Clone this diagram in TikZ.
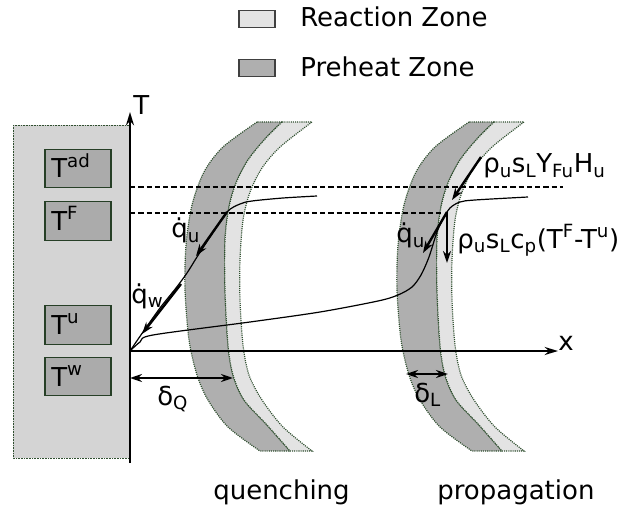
\documentclass[tikz,border=0pt]{standalone}
\usepackage{fontspec}
\setmainfont{DejaVu Sans}
\usetikzlibrary{arrows.meta}
\definecolor{wallgray}{HTML}{D4D4D4}
\definecolor{boxgray}{HTML}{ABABAB}
\definecolor{preheatgray}{HTML}{AFAFAF}
\definecolor{reactiongray}{HTML}{E3E3E3}
\definecolor{dgreen}{HTML}{2F4F2F}
\tikzset{
  wallstyle/.style={fill=wallgray, draw=dgreen, line width=0.6pt, dash pattern=on 0.6pt off 0.6pt},
  tbox/.style={draw=dgreen!80!black, fill=boxgray, line width=0.8pt, minimum width=49.5pt, minimum height=29pt, inner sep=0pt},
  legbox/.style={draw=black!75, line width=0.9pt, minimum width=27pt, minimum height=12.5pt, inner sep=0pt},
  preheatzone/.style={fill=preheatgray, draw=dgreen, line width=0.9pt, dash pattern=on 0.8pt off 0.8pt},
  reactionzone/.style={fill=reactiongray, draw=dgreen, line width=0.9pt, dash pattern=on 0.8pt off 0.8pt},
  axisline/.style={line width=1.4pt, -{Stealth[length=10pt,width=6pt]}},
  profile/.style={line width=0.9pt},
  levelline/.style={line width=1.1pt, dash pattern=on 4pt off 2.2pt},
  fluxarrow/.style={line width=1.8pt, -{Stealth[length=9pt,width=6pt]}},
  widtharrow/.style={line width=1.4pt, {Stealth[length=9pt,width=6pt]}-{Stealth[length=9pt,width=6pt]}},
  lbl/.style={anchor=base west, inner sep=0pt}
}
\begin{document}
\begin{tikzpicture}[x=0.75pt,y=-0.75pt,font=\fontsize{19.5}{23}\selectfont]
\useasboundingbox (0,0) rectangle (622,510);

% legend
\node[legbox, fill=reactiongray] (legR) at (257,19) {};
\node[lbl] (legRt) at (300,27) {Reaction Zone};
\node[legbox, fill=preheatgray] (legP) at (257,68) {};
\node[lbl] (legPt) at (300,77) {Preheat Zone};

% wall
\draw[wallstyle] (13,125) rectangle (130,458);

% flame bands
\foreach \dx in {0,212}{
\begin{scope}[shift={(\dx,0)}]
\filldraw[preheatzone] plot[smooth] coordinates {(257,122) (223,147) (204,172) (192,205) (186,245) (185,290) (189,340) (197,375) (208,400) (228,427) (260,451)}
  -- plot[smooth] coordinates {(290,451) (267,425) (244,400) (233,375) (228,345) (225,290) (225,240) (229,207) (236,183) (248,160) (265,139) (282,122)} -- cycle;
\filldraw[reactionzone] plot[smooth] coordinates {(282,122) (265,139) (248,160) (236,183) (229,207) (225,240) (225,290) (228,345) (233,375) (244,400) (267,425) (290,451)}
  -- plot[smooth] coordinates {(312,451) (283,427) (262,400) (249,375) (243,345) (240,300) (240,260) (243,220) (250,192) (262,168) (280,147) (312,122)} -- cycle;
\end{scope}}

% temperature boxes
\node[tbox] (bad) at (78,168.5) {};
\node[lbl] (lad) at (51,178) {T\textsuperscript{ad}};
\node[tbox] (bF) at (78,221) {};
\node[lbl] (lF) at (51,230) {T\textsuperscript{F}};
\node[tbox] (bu) at (78,325) {};
\node[lbl] (lu) at (51,334) {T\textsuperscript{u}};
\node[tbox] (bw) at (78,376.5) {};
\node[lbl] (lw) at (51,386) {T\textsuperscript{w}};

% coordinates
\coordinate (O) at (130,351);
\coordinate (Tbot) at (130,463);
\coordinate (Ttop) at (130,112);
\coordinate (Xend) at (558,351);
\coordinate (adL) at (130,187);
\coordinate (adR) at (563,187);
\coordinate (FL) at (130,213);
\coordinate (FR) at (444,213);
\coordinate (Qf) at (227,212);
\coordinate (Qtip) at (196,256);
\coordinate (Wst) at (181,284);
\coordinate (Wtip) at (142,334);
\coordinate (Pf) at (447,212);
\coordinate (Ptip) at (423,253);
\coordinate (Dtip) at (447,263);
\coordinate (Hst) at (481,157);
\coordinate (Htip) at (452,200);
\coordinate (dQa) at (130,378);
\coordinate (dQb) at (233,378);
\coordinate (dLa) at (406,374);
\coordinate (dLb) at (448,374);

% level lines
\draw[levelline] (adL) -- (adR);
\draw[levelline] (FL) -- (FR);

% profiles
\draw[profile] plot[smooth] coordinates {(130,351) (143,332) (160,308) (176,288) (187,273) (197,257) (210,237) (227,212) (240,204) (252,201) (283,198) (317,196)};
\draw[profile] plot[smooth] coordinates {(130,351) (140,342) (153,335) (250,322) (320,312) (378,301) (398,295) (412,287) (421,275) (429,257) (437,232) (443,219) (450,208) (460,202) (475,200) (528,197)};

% axes
\draw[axisline] (Tbot) -- (Ttop);
\draw[axisline] (O) -- (Xend);
\node[lbl] (Tlab) at (133,115) {T};
\node[lbl] (xlab) at (558,350) {x};

% flux arrows
\draw[fluxarrow] (Qf) -- (Qtip);
\draw[fluxarrow] (Wst) -- (Wtip);
\draw[fluxarrow] (Pf) -- (Ptip);
\draw[fluxarrow] (Pf) -- (Dtip);
\draw[fluxarrow] (Hst) -- (Htip);

% width arrows
\draw[widtharrow] (dQa) -- (dQb);
\draw[widtharrow] (dLa) -- (dLb);

% labels
\node[lbl] (qu1) at (171,238) {q̇\textsubscript{u}};
\node[lbl] (qw) at (131,303) {q̇\textsubscript{w}};
\node[lbl] (qu2) at (396,243) {q̇\textsubscript{u}};
\node[lbl] (rhoH) at (483,173) {ρ\textsubscript{u}s\textsubscript{L}Y\textsubscript{Fu}H\textsubscript{u}};
\node[lbl] (rhoC) at (457,248) {ρ\textsubscript{u}s\textsubscript{L}c\textsubscript{p}(T\textsuperscript{F}-T\textsuperscript{u})};
\node[lbl] (dQ) at (157,405) {δ\textsubscript{Q}};
\node[lbl] (dL) at (414,402) {δ\textsubscript{L}};
\node[lbl] (quench) at (213,499) {quenching};
\node[lbl] (prop) at (437,499) {propagation};
\end{tikzpicture}
\end{document}
